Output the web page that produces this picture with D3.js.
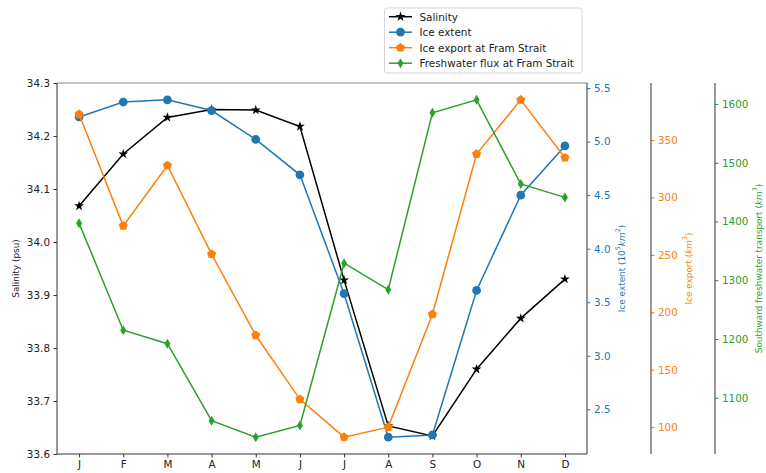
<!DOCTYPE html>
<html>
<head>
<meta charset="utf-8">
<script src="https://cdn.jsdelivr.net/npm/d3@7"></script>
<style>
  html, body { margin: 0; padding: 0; background: #fff; }
  svg { display: block; font-family: "DejaVu Sans", sans-serif; }
</style>
</head>
<body>
<svg id="chart" width="766" height="473"></svg>
<script>
// Monthly climatology: salinity, sea-ice extent, Fram Strait ice export and freshwater flux
const months = ["J", "F", "M", "A", "M", "J", "J", "A", "S", "O", "N", "D"];
const salinity = [34.068, 34.166, 34.235, 34.250, 34.249, 34.218, 33.928, 33.653, 33.634, 33.760, 33.856, 33.930];
const iceExtent = [5.23, 5.37, 5.39, 5.29, 5.02, 4.69, 3.58, 2.24, 2.26, 3.61, 4.50, 4.96];
const iceExport = [372.4, 275.3, 327.9, 250.6, 180.0, 124.2, 91.3, 100.0, 198.3, 337.8, 385.0, 334.6];
const freshwater = [1397, 1215, 1192, 1061, 1033, 1053, 1329, 1284, 1585, 1607, 1464, 1441];

const salTicks = [33.6, 33.7, 33.8, 33.9, 34.0, 34.1, 34.2, 34.3];
const extentTicks = [2.5, 3.0, 3.5, 4.0, 4.5, 5.0, 5.5];
const exportTicks = [100, 150, 200, 250, 300, 350];
const fluxTicks = [1100, 1200, 1300, 1400, 1500, 1600];

const C = { black: "#000000", blue: "#1f77b4", orange: "#ff7f0e", green: "#2ca02c" };
const FS = 10.4;

const svg = d3.select("#chart");
const L = 57, R = 587, T = 83, B = 454;

// pad an extent by 5% on each side
function padded(arr) {
  const [a, b] = d3.extent(arr);
  const m = (b - a) * 0.05;
  return [a - m, b + m];
}

const x = d3.scalePoint().domain(d3.range(12)).range([L, R]).padding(0.5);
const ySal = d3.scaleLinear().domain([33.6, 34.3]).range([B, T]);
const yExt = d3.scaleLinear().domain(padded(iceExtent)).range([B, T]);
const yExp = d3.scaleLinear().domain(padded(iceExport)).range([B, T]);
const yFlx = d3.scaleLinear().domain(padded(freshwater)).range([B, T]);

// marker shapes
const starPath = d3.symbol(d3.symbolStar, 30)();
const circlePath = d3.symbol(d3.symbolCircle, 60)();
function pentagon(r) {
  const pts = d3.range(5).map(i => {
    const a = -Math.PI / 2 + i * 2 * Math.PI / 5;
    return [r * Math.cos(a), r * Math.sin(a)];
  });
  return "M" + pts.map(p => p.join(",")).join("L") + "Z";
}
const pentPath = pentagon(4.8);
const diamondPath = "M0,-5L3,0L0,5L-3,0Z";

// axes spines
const spine = svg.append("g").attr("fill", "none");
spine.append("line").attr("x1", L).attr("x2", R).attr("y1", T).attr("y2", T).attr("stroke", "#888").attr("stroke-width", 1);
spine.append("line").attr("x1", L).attr("x2", R).attr("y1", B).attr("y2", B).attr("stroke", "#333").attr("stroke-width", 1);
spine.append("line").attr("x1", L).attr("x2", L).attr("y1", T).attr("y2", B).attr("stroke", "#333").attr("stroke-width", 1);
spine.append("line").attr("x1", R).attr("x2", R).attr("y1", T).attr("y2", B).attr("stroke", "#333").attr("stroke-width", 1);

// left axis: salinity
const gL = svg.append("g").attr("transform", `translate(${L},0)`)
  .call(d3.axisLeft(ySal).tickValues(salTicks).tickFormat(d3.format(".1f")).tickSize(3.5).tickPadding(3.5));
gL.select(".domain").remove();
gL.selectAll("text").attr("font-size", FS).attr("fill", "#222").attr("font-family", "DejaVu Sans");
gL.selectAll("line").attr("stroke", "#333");

// bottom axis: months
const gB = svg.append("g").attr("transform", `translate(0,${B})`)
  .call(d3.axisBottom(x).tickFormat(i => months[i]).tickSize(3.5).tickPadding(3.5));
gB.select(".domain").remove();
gB.selectAll("text").attr("font-size", FS).attr("fill", "#222").attr("font-family", "DejaVu Sans");
gB.selectAll("line").attr("stroke", "#333");

// right-hand axes
function rightAxis(xpos, scale, ticks, fmt, color, drawSpine) {
  const g = svg.append("g").attr("transform", `translate(${xpos},0)`)
    .call(d3.axisRight(scale).tickValues(ticks).tickFormat(fmt).tickSize(3.5).tickPadding(3.5));
  g.select(".domain").remove();
  g.selectAll("text").attr("font-size", FS).attr("fill", color).attr("font-family", "DejaVu Sans");
  g.selectAll(".tick line").attr("stroke", color);
  if (drawSpine) {
    svg.append("line").attr("x1", xpos).attr("x2", xpos).attr("y1", T).attr("y2", B)
      .attr("stroke", "#333").attr("stroke-width", 1);
  }
}
rightAxis(R, yExt, extentTicks, d3.format(".1f"), C.blue, false);
rightAxis(651, yExp, exportTicks, d3.format("d"), C.orange, true);
rightAxis(715, yFlx, fluxTicks, d3.format("d"), C.green, true);

// axis titles
const midY = (T + B) / 2;
function vTitle(xc, color, parts) {
  const t = svg.append("text")
    .attr("transform", `translate(${xc},${midY}) rotate(-90)`)
    .attr("text-anchor", "middle").attr("dominant-baseline", "central")
    .attr("font-size", 8.9).attr("fill", color);
  parts.forEach(p => {
    const s = t.append("tspan").text(p.t);
    if (p.i) s.attr("font-style", "italic");
    if (p.sup) s.attr("baseline-shift", "super").attr("font-size", 6.4);
  });
}
vTitle(16, "#222", [{ t: "Salinity (psu)" }]);
vTitle(622, C.blue, [{ t: "Ice extent (10" }, { t: "5", sup: true }, { t: "km", i: true }, { t: "2", sup: true }, { t: ")" }]);
vTitle(689, C.orange, [{ t: "Ice export (" }, { t: "km", i: true }, { t: "3", sup: true }, { t: ")" }]);
vTitle(759, C.green, [{ t: "Southward freshwater transport (" }, { t: "km", i: true }, { t: "3", sup: true }, { t: ")" }]);

// series
const series = [
  { name: "Salinity", data: salinity, y: ySal, color: C.black, mark: starPath },
  { name: "Ice extent", data: iceExtent, y: yExt, color: C.blue, mark: circlePath },
  { name: "Ice export at Fram Strait", data: iceExport, y: yExp, color: C.orange, mark: pentPath },
  { name: "Freshwater flux at Fram Strait", data: freshwater, y: yFlx, color: C.green, mark: diamondPath }
];

series.forEach(s => {
  const g = svg.append("g");
  g.append("path").datum(s.data)
    .attr("fill", "none").attr("stroke", s.color).attr("stroke-width", 1.5)
    .attr("d", d3.line().x((d, i) => x(i)).y(d => s.y(d)));
  g.selectAll("path.m").data(s.data).join("path").attr("class", "m")
    .attr("d", s.mark).attr("fill", s.color)
    .attr("transform", (d, i) => `translate(${x(i)},${s.y(d)})`);
});

// legend
const lg = svg.append("g");
lg.append("rect").attr("x", 384.5).attr("y", 8).attr("width", 197.5).attr("height", 65)
  .attr("rx", 2.5).attr("fill", "#fff").attr("fill-opacity", 0.8)
  .attr("stroke", "#d6d6d6").attr("stroke-width", 1);
series.forEach((s, i) => {
  const yy = 16.7 + i * 15.5;
  lg.append("line").attr("x1", 389).attr("x2", 412).attr("y1", yy).attr("y2", yy)
    .attr("stroke", s.color).attr("stroke-width", 1.5);
  lg.append("path").attr("d", s.mark).attr("fill", s.color)
    .attr("transform", `translate(400.5,${yy})`);
  lg.append("text").attr("x", 419.5).attr("y", yy).attr("dominant-baseline", "central")
    .attr("font-size", FS).attr("fill", "#222").text(s.name);
});
</script>
</body>
</html>
